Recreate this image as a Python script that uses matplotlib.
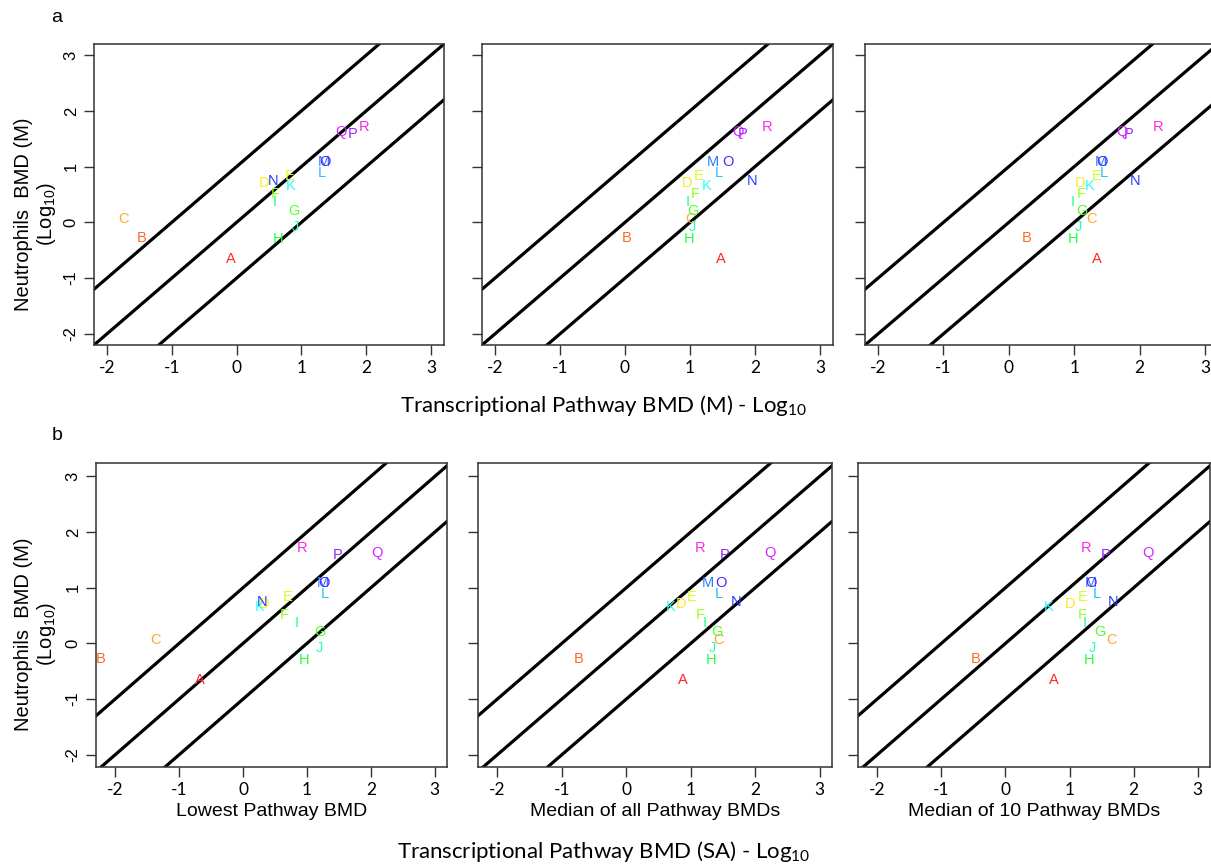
import numpy as np
import matplotlib
matplotlib.use("Agg")
import matplotlib.pyplot as plt
import colorsys

plt.rcParams['font.family'] = ['Liberation Sans', 'DejaVu Sans']

# chemicals A..R, apical (neutrophils) BMD, log10
labels = list("ABCDEFGHIJKLMNOPQR")
neutro = [-0.65, -0.28, 0.06, 0.70, 0.84, 0.51, 0.21, -0.30, 0.36,
          -0.08, 0.65, 0.89, 1.08, 0.74, 1.09, 1.58, 1.63, 1.71]

# transcriptional BMDs (M), log10
tx_lowest_m = [-0.09, -1.47, -1.75, 0.43, 0.82, 0.59, 0.89, 0.64, 0.59,
               0.90, 0.83, 1.31, 1.34, 0.56, 1.37, 1.79, 1.61, 1.96]
tx_median_all_m = [1.48, 0.03, 1.00, 0.96, 1.14, 1.08, 1.05, 0.99, 0.96,
                   1.04, 1.26, 1.45, 1.35, 1.96, 1.58, 1.81, 1.73, 2.18]
tx_median10_m = [1.35, 0.28, 1.27, 1.09, 1.34, 1.11, 1.12, 0.98, 0.97,
                 1.07, 1.23, 1.45, 1.41, 1.93, 1.42, 1.84, 1.73, 2.29]

# transcriptional BMDs (SA), log10
tx_lowest_sa = [-0.68, -2.23, -1.37, 0.33, 0.69, 0.64, 1.21, 0.96, 0.84,
                1.19, 0.26, 1.28, 1.25, 0.30, 1.26, 1.48, 2.09, 0.92]
tx_median_all_sa = [0.88, -0.74, 1.43, 0.85, 1.01, 1.15, 1.40, 1.31, 1.22,
                    1.33, 0.69, 1.44, 1.27, 1.70, 1.47, 1.53, 2.22, 1.14]
tx_median10_sa = [0.75, -0.47, 1.66, 1.01, 1.20, 1.20, 1.47, 1.31, 1.24,
                  1.36, 0.68, 1.43, 1.33, 1.68, 1.34, 1.56, 2.22, 1.25]

sub_titles = ["Lowest Pathway BMD", "Median of all Pathway BMDs", "Median of 10 Pathway BMDs"]
ticks = [-2, -1, 0, 1, 2, 3]

cols = [colorsys.hsv_to_rgb(i / 20, 0.85, 1.0) for i in range(len(labels))]

W, H = 1211, 865
fig = plt.figure(figsize=(W / 100, H / 100), dpi=100)


def make_ax(l, r, t, b):
    return fig.add_axes([l / W, 1 - b / H, (r - l) / W, (b - t) / H])


def panel(ax, xs, xlim, ylim, ylabels):
    for c in [1, 0, -1]:
        ax.axline((0, c), slope=1, color="black", lw=2.3, zorder=1)
    for lab, x, y, col in zip(labels, xs, neutro, cols):
        ax.text(x, y, lab, color=col, ha="center", va="center", fontsize=10.5,
                zorder=2, clip_on=True)
    ax.set_xlim(*xlim)
    ax.set_ylim(*ylim)
    ax.set_xticks(ticks)
    ax.set_yticks(ticks)
    ax.set_xticklabels([str(t) for t in ticks], family=["Lato", "DejaVu Sans"], fontsize=12.5)
    if ylabels:
        ax.set_yticklabels([str(t) for t in ticks], rotation=90, va="center", fontsize=12)
    else:
        ax.set_yticklabels([])
    ax.tick_params(direction="out", length=7, width=1.0, color="#333333", pad=4)
    for s in ax.spines.values():
        s.set_color("#333333")
        s.set_linewidth(1.1)


# row a
row_a = [(94, 444), (482, 833), (865, 1218)]
data_a = [tx_lowest_m, tx_median_all_m, tx_median10_m]
for i, ((l, r), xs) in enumerate(zip(row_a, data_a)):
    ax = make_ax(l, r, 44, 345)
    panel(ax, xs, (-2.2, 3.2), (-2.2, 3.2), i == 0)

# row b
row_b = [(96, 447), (478, 832), (858, 1210)]
data_b = [tx_lowest_sa, tx_median_all_sa, tx_median10_sa]
for i, ((l, r), xs) in enumerate(zip(row_b, data_b)):
    ax = make_ax(l, r, 463, 767)
    panel(ax, xs, (-2.3, 3.19), (-2.22, 3.24), i == 0)
    fig.text((l + r) / 2 / W, 1 - 812 / H, sub_titles[i], ha="center", va="center", fontsize=14)

# panel letters and axis titles
fig.text(57 / W, 1 - 17 / H, "a", ha="center", va="center", fontsize=14)
fig.text(57 / W, 1 - 436 / H, "b", ha="center", va="center", fontsize=14)

for yc in [214, 634]:
    fig.text(24 / W, 1 - yc / H, "Neutrophils  BMD (M)", rotation=90,
             ha="center", va="center", fontsize=14.5)
    fig.text(46 / W, 1 - yc / H, r"(Log$_{\mathregular{10}}$)", rotation=90,
             ha="center", va="center", fontsize=14.5)

fig.text(604 / W, 1 - 406 / H, r"Transcriptional Pathway BMD (M) - Log$_{\mathregular{10}}$",
         ha="center", va="center", fontsize=16, family=["Lato", "DejaVu Sans"])
fig.text(604 / W, 1 - 851 / H, r"Transcriptional Pathway BMD (SA) - Log$_{\mathregular{10}}$",
         ha="center", va="center", fontsize=16, family=["Lato", "DejaVu Sans"])

fig.savefig("out.png", dpi=100)
